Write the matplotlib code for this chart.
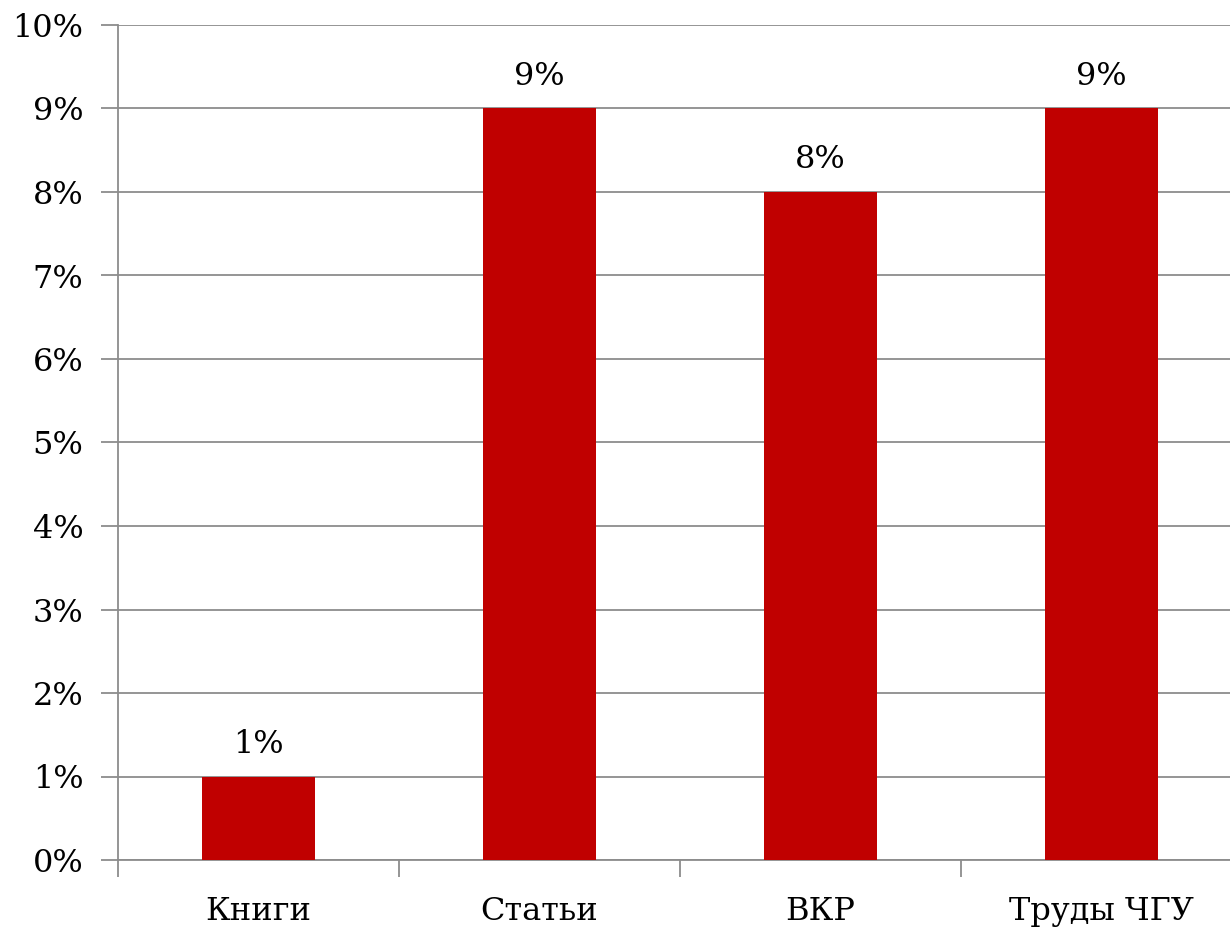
import matplotlib
matplotlib.use("Agg")
import matplotlib.pyplot as plt
from matplotlib.ticker import FuncFormatter, FixedLocator

categories = ["Книги", "Статьи", "ВКР", "Труды ЧГУ"]
values = [1, 9, 8, 9]
y_ticks = list(range(0, 11))

plt.rcParams['font.family'] = ['DejaVu Serif']

fig = plt.figure(figsize=(12.3, 9.3), dpi=100)
ax = fig.add_axes([118/1230, 1 - 860/930, 1124/1230, (860 - 25)/930])

x = list(range(len(categories)))
bars = ax.bar(x, values, width=0.4, color="#C00000", zorder=3)

ax.set_xlim(-0.5, len(categories) - 0.5)
ax.set_ylim(0, 10)
ax.yaxis.set_major_locator(FixedLocator(y_ticks))
ax.yaxis.set_major_formatter(FuncFormatter(lambda v, p: f"{v:.0f}%"))
ax.yaxis.grid(True, color="#8c8c8c", linewidth=1.3, zorder=0)

ax.set_xticks(x)
ax.set_xticklabels(categories)
ax.set_xticks([i - 0.5 for i in range(len(categories))], minor=True)
ax.tick_params(axis='x', which='major', length=0, pad=26, labelsize=23)
ax.tick_params(axis='x', which='minor', length=12, width=1.3, color="#8c8c8c", direction='out')
ax.tick_params(axis='y', length=12, width=1.3, color="#8c8c8c", labelsize=23, pad=13)

for s in ['top', 'right']:
    ax.spines[s].set_visible(False)
for s in ['left', 'bottom']:
    ax.spines[s].set_color("#8c8c8c")
    ax.spines[s].set_linewidth(1.3)

for xi, v in zip(x, values):
    ax.annotate(f"{v}%", (xi, v), xytext=(0, 12), textcoords='offset points',
                ha='center', va='bottom', fontsize=23)

fig.savefig("out.png", dpi=100)
